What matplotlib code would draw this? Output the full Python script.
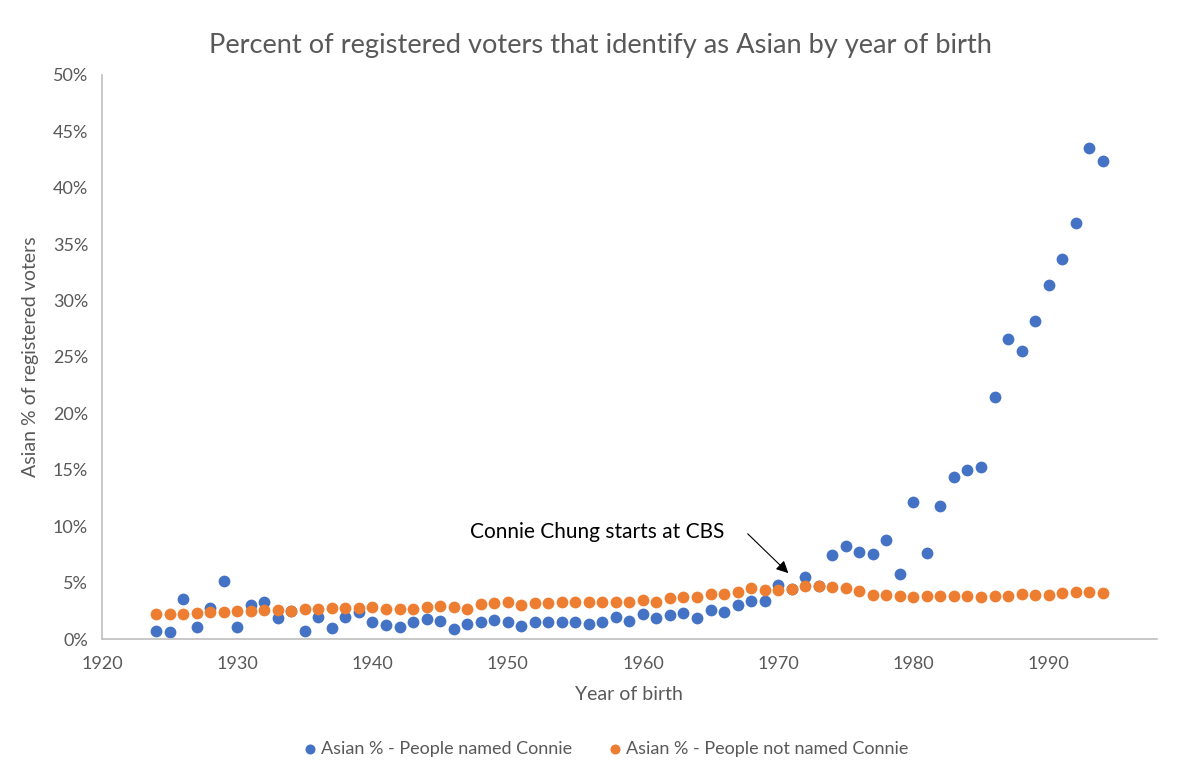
import numpy as np
import matplotlib.pyplot as plt
from matplotlib.ticker import FuncFormatter

plt.rcParams['font.family'] = ['Lato', 'DejaVu Sans']

# years of birth 1924..1994
years = list(range(1924, 1995))

# Asian % - people named Connie
connie = [0.74, 0.59, 3.55, 1.09, 2.72, 5.14, 1.03, 3.00, 3.25, 1.90,
          2.50, 0.74, 1.98, 0.94, 1.98, 2.37, 1.48, 1.24, 1.09, 1.48,
          1.74, 1.62, 0.89, 1.33, 1.48, 1.68, 1.48, 1.18, 1.53, 1.48,
          1.48, 1.48, 1.33, 1.48, 1.92, 1.60, 2.22, 1.90, 2.13, 2.33,
          1.83, 2.57, 2.42, 2.98, 3.37, 3.40, 4.76, 4.45, 5.47, 4.70,
          7.45, 8.27, 7.68, 7.53, 8.78, 5.76, 12.17, 7.60, 11.79, 14.33,
          14.98, 15.28, 21.48, 26.60, 25.53, 28.19, 31.35, 33.66, 36.90, 43.50,
          42.37]

# Asian % - people not named Connie
not_connie = [2.20, 2.20, 2.20, 2.30, 2.37, 2.40, 2.50, 2.45, 2.57, 2.60,
              2.50, 2.65, 2.70, 2.78, 2.78, 2.78, 2.87, 2.70, 2.65, 2.65,
              2.87, 2.97, 2.87, 2.70, 3.10, 3.16, 3.31, 3.00, 3.16, 3.16,
              3.25, 3.31, 3.31, 3.25, 3.31, 3.31, 3.46, 3.31, 3.67, 3.75,
              3.70, 3.96, 3.96, 4.14, 4.49, 4.34, 4.34, 4.43, 4.73, 4.70,
              4.58, 4.49, 4.28, 3.90, 3.90, 3.84, 3.69, 3.78, 3.78, 3.78,
              3.78, 3.69, 3.78, 3.78, 3.99, 3.93, 3.93, 4.08, 4.14, 4.14,
              4.08]

x_ticks = list(range(1920, 1991, 10))
y_ticks = list(range(0, 51, 5))

blue = '#4472C4'
orange = '#ED7D31'
grey = '#595959'

fig = plt.figure(figsize=(12, 7.77), dpi=100)
ax = fig.add_axes([0.085, 0.1776, 0.879, 0.7259])

ax.scatter(years, connie, s=72, color=blue, linewidths=0, zorder=2,
           label='Asian % - People named Connie')
ax.scatter(years, not_connie, s=72, color=orange, linewidths=0, zorder=3,
           label='Asian % - People not named Connie')

ax.set_xlim(1920, 1998)
ax.set_ylim(0, 50)
ax.set_xticks(x_ticks)
ax.set_yticks(y_ticks)
ax.yaxis.set_major_formatter(FuncFormatter(lambda v, p: '{:.0f}%'.format(v)))
ax.tick_params(length=0, labelsize=13, colors=grey)
ax.tick_params(axis='y', pad=10)
ax.tick_params(axis='x', pad=12)

for side in ['top', 'right']:
    ax.spines[side].set_visible(False)
for side in ['left', 'bottom']:
    ax.spines[side].set_color('#BFBFBF')
    ax.spines[side].set_linewidth(1.2)

ax.set_xlabel('Year of birth', fontsize=14, color=grey, labelpad=10)
ax.set_ylabel('Asian % of registered voters', fontsize=14, color=grey, labelpad=10)
fig.suptitle('Percent of registered voters that identify as Asian by year of birth',
             fontsize=19.6, color=grey, y=0.958)

ax.annotate('Connie Chung starts at CBS', xy=(1970.9, 5.67), xytext=(1947.2, 9.5),
            fontsize=15, color='black', va='center', ha='left')
ax.annotate('', xy=(1970.9, 5.67), xytext=(1967.6, 9.5),
            arrowprops=dict(arrowstyle='-|>', color='black', lw=0.8,
                            mutation_scale=18))

fig.legend(loc='center', bbox_to_anchor=(0.503, 0.036), ncol=2, frameon=False,
           fontsize=13, labelcolor=grey, handletextpad=0.0, handlelength=1.2,
           columnspacing=1.8, markerscale=0.85)

fig.savefig('out.png', dpi=100)
